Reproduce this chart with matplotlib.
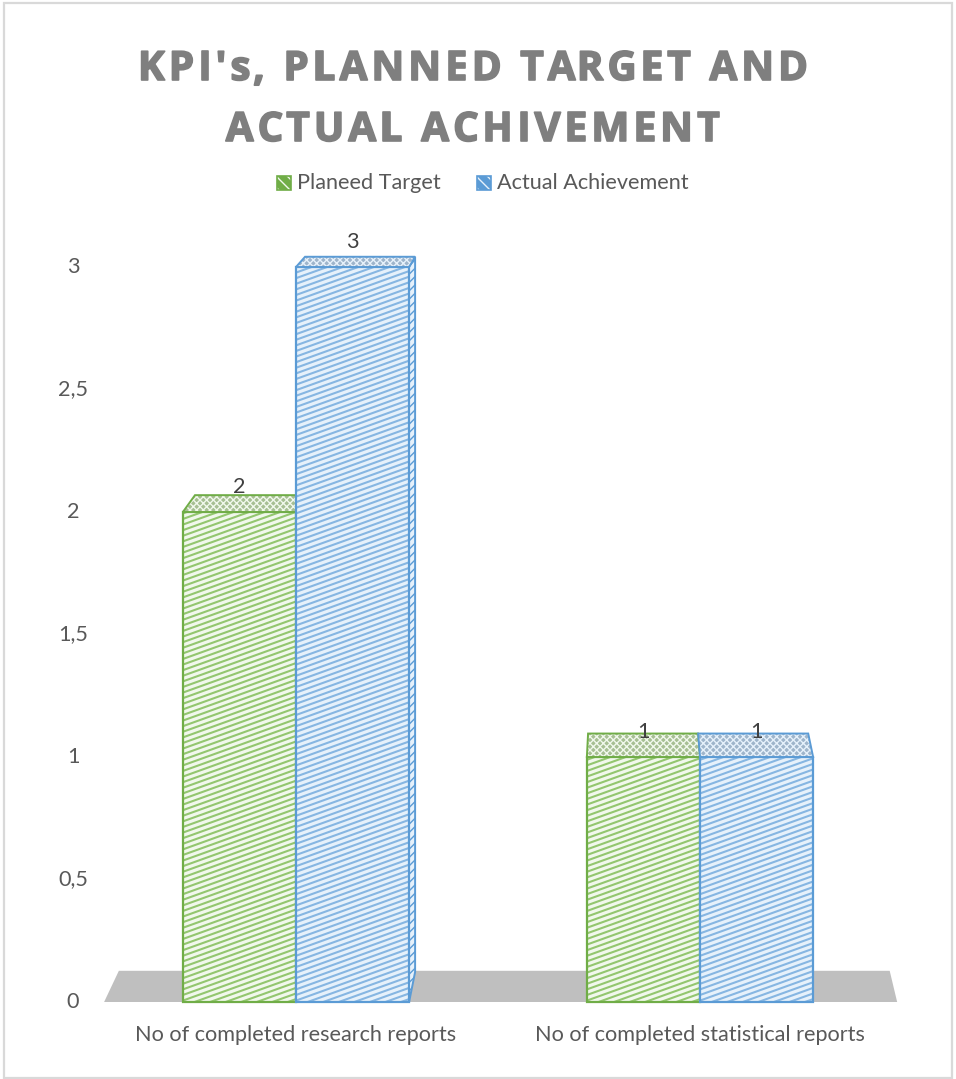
import numpy as np
import matplotlib
matplotlib.use('Agg')
import matplotlib.pyplot as plt
import matplotlib.patheffects as pe
from matplotlib.patches import Polygon, Rectangle
from matplotlib.transforms import ScaledTranslation

# chart data
categories = ['No of completed research reports', 'No of completed statistical reports']
series_names = ['Planeed Target', 'Actual Achievement']
planned = [2, 1]
actual = [3, 1]
ytick_values = [0, 0.5, 1, 1.5, 2, 2.5, 3]
ytick_labels = ['0', '0,5', '1', '1,5', '2', '2,5', '3']
title_lines = ["KPI's, PLANNED TARGET AND", "ACTUAL ACHIVEMENT"]

# styling
FONT = 'Lato'
FS = 15.6
TXT = '#595959'
GREEN_EDGE, GREEN_FACE, GREEN_HATCH, GREEN_TOP = '#70ad47', '#f1f8ec', '#93c66f', '#a7bf93'
BLUE_EDGE, BLUE_FACE, BLUE_HATCH, BLUE_TOP = '#5b9bd5', '#e6f1fb', '#86b6e2', '#9fb5cb'
FLOOR = '#bfbfbf'

W, H = 956, 1079
X0_PX, CAT_PX = 296, 404      # pixel x of first category, spacing between categories
Y0_PX, UNIT_PX = 1002, 245    # pixel y of value 0, pixels per unit
BAR_W = 0.28
K_BAR, K_FLOOR = 0.027, 0.028
VP = ((631 - X0_PX) / CAT_PX, (Y0_PX + 112) / UNIT_PX)  # vanishing point for depth

fig = plt.figure(figsize=(W / 100, H / 100), dpi=100)
ax = fig.add_axes([0, 0, 1, 1])
ax.set_xlim(-X0_PX / CAT_PX, (W - X0_PX) / CAT_PX)
ax.set_ylim((Y0_PX - H) / UNIT_PX, Y0_PX / UNIT_PX)
ax.axis('off')


def back(pt, k):
    return (pt[0] + k * (VP[0] - pt[0]), pt[1] + k * (VP[1] - pt[1]))


def px_off(dx, dy):
    return ax.transData + ScaledTranslation(dx / 100, dy / 100, fig.dpi_scale_trans)


# chart border
fig.patches.append(Rectangle((4 / W, 1 / H), 948 / W, 1075 / H, transform=fig.transFigure,
                             fill=False, ec='#d9d9d9', lw=1.6))

# floor
fl, fr = -0.475, 1.488
floor = [(fl, 0), (fr, 0), back((fr, 0), K_FLOOR), back((fl, 0), K_FLOOR)]
ax.add_patch(Polygon(floor, closed=True, fc=FLOOR, ec='none', zorder=1))

x = np.arange(len(categories))
series = [(planned, -BAR_W / 2, GREEN_EDGE, GREEN_FACE, GREEN_HATCH, GREEN_TOP),
          (actual, BAR_W / 2, BLUE_EDGE, BLUE_FACE, BLUE_HATCH, BLUE_TOP)]

# slanted hatch lines (about 20 degrees on screen)
slope = 0.36 * CAT_PX / UNIT_PX
hatch_step = 5.6 / UNIT_PX

z = 2
for i in range(len(categories)):
    for vals, dx, edge, face, hatch, top in series:
        v = vals[i]
        xc = x[i] + dx
        x0, x1 = xc - BAR_W / 2, xc + BAR_W / 2
        # front face
        bars = ax.bar(xc, v, BAR_W, color=face, edgecolor='none', zorder=z)
        rect = bars[0]
        xs = np.array([x0 - 0.05, x1 + 0.05])
        for c in np.arange(-1.0, v + 1.0, hatch_step):
            ln, = ax.plot(xs, c + slope * (xs - x0), color=hatch, lw=1.5, zorder=z + 0.1,
                          solid_capstyle='butt')
            ln.set_clip_path(rect)
        ax.add_patch(Rectangle((x0, 0), BAR_W, v, fill=False, ec=edge, lw=1.6, zorder=z + 0.2))
        # top face
        ft_l, ft_r = (x0, v), (x1, v)
        top_poly = [ft_l, ft_r, back(ft_r, K_BAR), back(ft_l, K_BAR)]
        ax.add_patch(Polygon(top_poly, closed=True, fc=top, ec='none', zorder=z + 0.3))
        ax.add_patch(Polygon(top_poly, closed=True, fill=False, hatch='xxxxx', ec=face,
                             lw=0, zorder=z + 0.35))
        ax.add_patch(Polygon(top_poly, closed=True, fill=False, ec=edge, lw=1.4, zorder=z + 0.4))
        # right side face when it faces the viewer
        br_t = back(ft_r, K_BAR)
        if br_t[0] > x1:
            side = [(x1, 0), ft_r, br_t, back((x1, 0), K_BAR)]
            ax.add_patch(Polygon(side, closed=True, fc=face, ec=edge, lw=1.4, hatch='////',
                                 zorder=z + 0.3))
        # value label
        ax.text(xc, v, str(v), transform=px_off(0, 25), ha='center', va='center',
                fontsize=FS, color='#404040', family=FONT, zorder=10)
        z += 1

# value axis labels
for v, lab in zip(ytick_values, ytick_labels):
    ax.text((73 - X0_PX) / CAT_PX, v, lab, ha='center', va='center', fontsize=FS,
            color=TXT, family=FONT)

# category labels
for i, cat in enumerate(categories):
    ax.text(x[i], 0, cat, transform=px_off(0, -33), ha='center', va='center',
            fontsize=FS, color=TXT, family=FONT)

# legend
leg_items = [(series_names[0], 277, GREEN_EDGE, GREEN_FACE), (series_names[1], 477, BLUE_EDGE, BLUE_FACE)]
for name, lx, edge, face in leg_items:
    fig.patches.append(Rectangle((lx / W, 1 - 190 / H), 14 / W, 14 / H, transform=fig.transFigure,
                                 fc=edge, ec=face, lw=0, hatch='\\\\\\'))
    fig.patches.append(Rectangle((lx / W, 1 - 190 / H), 14 / W, 14 / H, transform=fig.transFigure,
                                 fill=False, ec=edge, lw=1.2))
    fig.text((lx + 20) / W, 1 - 183 / H, name, ha='left', va='center', fontsize=FS,
             color=TXT, family=FONT)

# title with widened letter spacing
fig.canvas.draw()
renderer = fig.canvas.get_renderer()
tkw = dict(fontsize=29, fontweight='bold', color='#7f7f7f', family='Open Sans')
heavy = [pe.withStroke(linewidth=1.2, foreground='#7f7f7f')]


def text_w(s):
    t = fig.text(0, 0, s + '|', **tkw)
    w = t.get_window_extent(renderer).width
    t.remove()
    t = fig.text(0, 0, '|', **tkw)
    w -= t.get_window_extent(renderer).width
    t.remove()
    return w


line_w = [text_w(s) for s in title_lines]
track = (670 - line_w[0]) / (len(title_lines[0]) - 1)
for s, w, base in zip(title_lines, line_w, [80, 141]):
    total = w + track * (len(s) - 1)
    start = 473 - total / 2
    for j, ch in enumerate(s):
        if ch == ' ':
            continue
        xp = start + text_w(s[:j]) + track * j
        fig.text(xp / W, 1 - base / H, ch, ha='left', va='baseline', path_effects=heavy, **tkw)

fig.savefig('out.png', dpi=100)
